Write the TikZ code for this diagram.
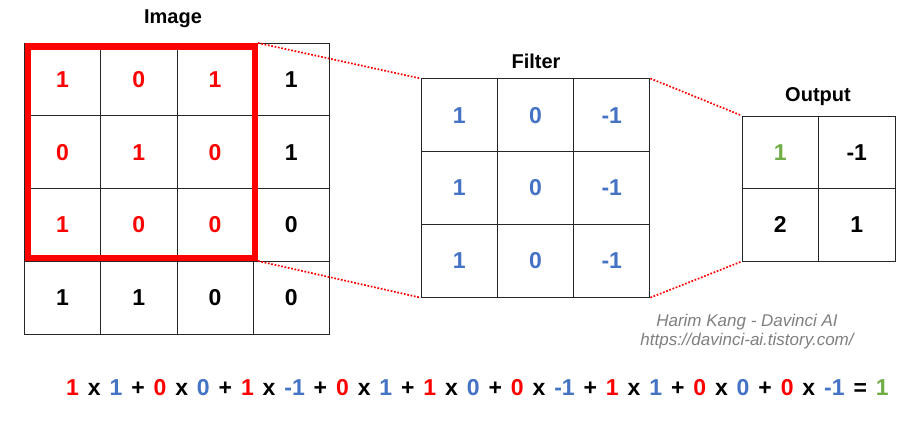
\documentclass[tikz,border=0pt]{standalone}
\usepackage{fontspec}
\setmainfont{Liberation Sans}
\newfontfamily\markfont{Liberation Sans}
\usepackage{xcolor}
\usetikzlibrary{calc}
\definecolor{imgred}{HTML}{FF0000}
\definecolor{fltblue}{HTML}{4472C4}
\definecolor{outgreen}{HTML}{70AD47}
\newcommand{\rd}[1]{\textcolor{imgred}{#1}}
\newcommand{\bl}[1]{\textcolor{fltblue}{#1}}
\newcommand{\gn}[1]{\textcolor{outgreen}{#1}}

\begin{document}
\begin{tikzpicture}[x=1pt,y=-1pt,
    cell/.style={draw=black!85, line width=1pt, minimum width=76.25pt, minimum height=72.75pt,
      inner sep=0pt, font=\fontsize{23}{26}\selectfont\bfseries},
    title/.style={font=\fontsize{20}{24}\selectfont\bfseries},
    link/.style={imgred, dash pattern=on 1.7pt off 1.7pt, line width=1.7pt}]
      \useasboundingbox [fill=white] (0,0) rectangle (920,429);
      % image 4x4
      \foreach \r/\row in {1/{\rd{1},\rd{0},\rd{1},1},2/{\rd{0},\rd{1},\rd{0},1},3/{\rd{1},\rd{0},\rd{0},0},4/{1,1,0,0}} {
        \foreach \v [count=\c] in \row {
          \node [cell] (img-\r-\c) at ({24.5+76.25*(\c-0.5)},{43+72.75*(\r-0.5)}) {\v};
        }
      }
      % filter 3x3
      \foreach \r in {1,2,3} {
        \foreach \v [count=\c] in {1,0,-1} {
          \node [cell, text=fltblue] (flt-\r-\c) at ({421+76.3*(\c-0.5)},{79+72.7*(\r-0.5)}) {\v};
        }
      }
      % output 2x2
      \foreach \r/\row in {1/{\gn{1},-1},2/{2,1}} {
        \foreach \v [count=\c] in \row {
          \node [cell, minimum width=76.5pt, minimum height=72.5pt] (out-\r-\c) at ({742+76.5*(\c-0.5)},{116+72.5*(\r-0.5)}) {\v};
        }
      }
      \node [title] (imgtitle) at (173,19) {Image};
      \node [title] (flttitle) at (536,61) {Filter};
      \node [title] (outtitle) at (818,97) {Output};
      \node [draw=imgred, line width=6.5pt, minimum width=227pt, minimum height=211.5pt,
        inner sep=0pt] (redbox) at (141.25,152) {};
      \draw [link] (redbox.north east) -- (flt-1-1.north west);
      \draw [link] (redbox.south east) -- (flt-3-1.south west);
      \draw [link] (flt-1-3.north east) -- (out-1-1.north west);
      \draw [link] (flt-3-3.south east) -- (out-2-1.south west);
      \node [font=\markfont\itshape\fontsize{17}{19}\selectfont, text=black!50, align=center]
        (mark) at (747,331.5) {Harim Kang - Davinci AI\\https://davinci-ai.tistory.com/};
      \node [anchor=west, inner sep=0pt, font=\fontsize{23}{26}\selectfont\bfseries] (sum) at (66,388)
        {\spaceskip=8.9pt\relax\rd{1} x \bl{1} + \rd{0} x \bl{0} + \rd{1} x \bl{-1} + \rd{0} x \bl{1} + \rd{1} x \bl{0} + \rd{0} x \bl{-1} + \rd{1} x \bl{1} + \rd{0} x \bl{0} + \rd{0} x \bl{-1} = \gn{1}};
    \end{tikzpicture}
\end{document}
